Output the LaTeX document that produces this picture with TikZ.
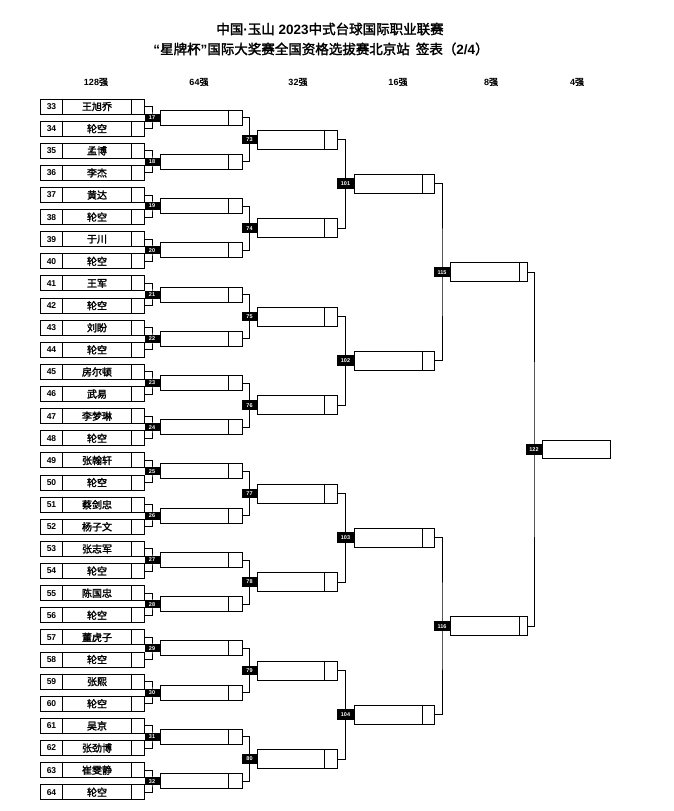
\documentclass[tikz,border=0pt]{standalone}
\usepackage{fontspec}
\setmainfont{Liberation Sans}
\newfontfamily\cjk{Noto Sans CJK SC}[AutoFakeBold=2]
\usepackage{tikz}
\usetikzlibrary{
calc,
backgrounds
}

\tikzset{
slot/.style={draw,line width=1pt,inner sep=0pt,minimum height=15pt},
playerbox/.style={slot,minimum width=104pt},
divider/.style={line width=1pt},
link/.style={line width=0.9pt},
tag/.style={fill=black,inner sep=0pt,text=white,font=\fontsize{5.5}{6}\selectfont\bfseries},
seed/.style={font=\fontsize{8.5}{9}\selectfont\bfseries},
entrant/.style={font=\fontsize{10}{11}\selectfont\cjk\bfseries},
roundhead/.style={font=\fontsize{9}{10}\selectfont\bfseries}
}

\begin{document}
\begin{tikzpicture}[x=1pt,y=-1pt]

\useasboundingbox (0,0) rectangle (674,811);

% title
\node[font=\fontsize{13.5}{15}\selectfont\bfseries] (title1) at (330,29)
{{\cjk 中国}·{\cjk 玉山} 2023{\cjk 中式台球国际职业联赛}};
\node[font=\fontsize{13.5}{15}\selectfont\bfseries] (title2) at (321,49)
{“{\cjk 星牌杯}”{\cjk 国际大奖赛全国资格选拔赛北京站\ \ 签表（}2/4{\cjk ）}};

% round headers
\node[roundhead] (h128) at (96,82) {128{\cjk 强}};
\node[roundhead] (h64) at (199,82) {64{\cjk 强}};
\node[roundhead] (h32) at (298,82) {32{\cjk 强}};
\node[roundhead] (h16) at (398,82) {16{\cjk 强}};
\node[roundhead] (h8) at (491,82) {8{\cjk 强}};
\node[roundhead] (h4) at (577,82) {4{\cjk 强}};

% players
\foreach \name [count=\k from 0] in {
王旭乔,轮空,孟博,李杰,黄达,轮空,于川,轮空,
王军,轮空,刘盼,轮空,房尔顿,武易,李梦琳,轮空,
张翰轩,轮空,蔡剑忠,杨子文,张志军,轮空,陈国忠,轮空,
董虎子,轮空,张熙,轮空,吴京,张劲博,崔雯静,轮空
}{
\pgfmathtruncatemacro\n{33+\k}
\pgfmathsetmacro\yy{106.5+22.12*\k}
\node[playerbox] (p\n) at (92,\yy) {};
\draw[divider] ($(p\n.north west)+(23,0)$) -- ($(p\n.south west)+(23,0)$);
\draw[divider] ($(p\n.north east)+(-13,0)$) -- ($(p\n.south east)+(-13,0)$);
\node[seed] at (51.5,\yy) {\n};
\node[entrant] at (97,\yy) {\name};
}

% 64
\foreach \j in {0,...,15}{
\pgfmathtruncatemacro\m{17+\j}
\pgfmathtruncatemacro\a{33+2*\j}
\pgfmathtruncatemacro\b{34+2*\j}
\pgfmathsetmacro\yy{106.5+22.12*(2*\j+0.5)}
\node[slot,minimum width=82pt] (w\m) at (201,\yy) {};
\draw[divider] ($(w\m.north east)+(-14,0)$) -- ($(w\m.south east)+(-14,0)$);
\node[tag,minimum width=15pt,minimum height=8pt] (m\m) at (152,\yy) {\m};
\begin{scope}[on background layer]
\draw[link] (p\a.east) -| (m\m.center) |- (p\b.east);
\draw[link] (m\m.center) -- (w\m.west);
\end{scope}
}

% 32
\foreach \j in {0,...,7}{
\pgfmathtruncatemacro\m{73+\j}
\pgfmathtruncatemacro\a{17+2*\j}
\pgfmathtruncatemacro\b{18+2*\j}
\pgfmathsetmacro\yy{106.5+22.12*(4*\j+1.5)}
\node[slot,minimum width=80pt,minimum height=19pt] (w\m) at (297,\yy) {};
\draw[divider] ($(w\m.north east)+(-13,0)$) -- ($(w\m.south east)+(-13,0)$);
\node[tag,minimum width=15pt,minimum height=9.5pt] (m\m) at (249.5,\yy) {\m};
\begin{scope}[on background layer]
\draw[link] (w\a.east) -| (m\m.center) |- (w\b.east);
\draw[link] (m\m.center) -- (w\m.west);
\end{scope}
}

% 16
\foreach \j in {0,...,3}{
\pgfmathtruncatemacro\m{101+\j}
\pgfmathtruncatemacro\a{73+2*\j}
\pgfmathtruncatemacro\b{74+2*\j}
\pgfmathsetmacro\yy{106.5+22.12*(8*\j+3.5)}
\node[slot,minimum width=80pt,minimum height=19pt] (w\m) at (394,\yy) {};
\draw[divider] ($(w\m.north east)+(-12,0)$) -- ($(w\m.south east)+(-12,0)$);
\node[tag,minimum width=17pt,minimum height=11pt] (m\m) at (345.5,\yy) {\m};
\begin{scope}[on background layer]
\draw[link] (w\a.east) -| (m\m.center) |- (w\b.east);
\draw[link] (m\m.center) -- (w\m.west);
\end{scope}
}

% 8
\foreach \j in {0,1}{
\pgfmathtruncatemacro\m{115+\j}
\pgfmathtruncatemacro\a{101+2*\j}
\pgfmathtruncatemacro\b{102+2*\j}
\pgfmathsetmacro\yy{106.5+22.12*(16*\j+7.5)}
\node[slot,minimum width=77pt,minimum height=19pt] (w\m) at (488.5,\yy) {};
\draw[divider] ($(w\m.north east)+(-8,0)$) -- ($(w\m.south east)+(-8,0)$);
\node[tag,minimum width=16pt,minimum height=10pt] (m\m) at (442,\yy) {\m};
\begin{scope}[on background layer]
\draw[link] (w\a.east) -| (m\m.center) |- (w\b.east);
\draw[link] (m\m.center) -- (w\m.west);
\end{scope}
}

% 4
\node[slot,minimum width=68pt,minimum height=18pt] (w122) at (576,449.4) {};
\node[tag,minimum width=16pt,minimum height=11pt] (m122) at (534,449.4) {122};
\begin{scope}[on background layer]
\draw[link] (w115.east) -| (m122.center) |- (w116.east);
\draw[link] (m122.center) -- (w122.west);
\end{scope}

\end{tikzpicture}
\end{document}
